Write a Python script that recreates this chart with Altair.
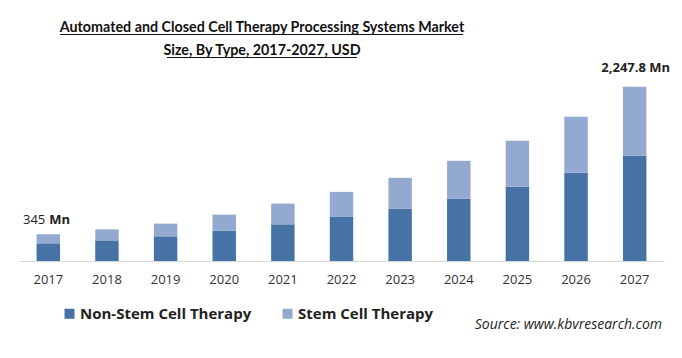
import altair as alt
import pandas as pd

years = ["2017", "2018", "2019", "2020", "2021", "2022", "2023", "2024", "2025", "2026", "2027"]
non_stem = [228, 266, 318, 391, 473, 568, 672, 801, 956, 1137, 1357]
stem = [117, 142, 164, 207, 267, 323, 400, 491, 594, 723, 890.8]
series = ["Non-Stem Cell Therapy", "Stem Cell Therapy"]
colors = ["#4672A6", "#94A9CF"]
title_lines = ["Automated and Closed Cell Therapy Processing Systems Market",
               "Size, By Type, 2017-2027, USD"]
first_label = "345"
last_label = "2,247.8 Mn"
unit = "Mn"
source_text = "Source: www.kbvresearch.com"

rows = []
for i, yr in enumerate(years):
    rows.append({"year": yr, "series": series[0], "value": non_stem[i], "ord": 0})
    rows.append({"year": yr, "series": series[1], "value": stem[i], "ord": 1})
df = pd.DataFrame(rows)
tot_df = pd.DataFrame({"year": years, "total": [a + b for a, b in zip(non_stem, stem)]})

xscale = alt.Scale(domain=years, paddingInner=0.6, paddingOuter=0.3)
yscale = alt.Scale(domain=[0, 2334], nice=False)

x = alt.X("year:N", scale=xscale, sort=years,
          axis=alt.Axis(title=None, labelAngle=0, ticks=False, domainColor="#d9d9d9",
                        domainWidth=1, labelPadding=12, labelFont="Open Sans",
                        labelFontSize=13, labelColor="#333333", grid=False))

bars = alt.Chart(df).mark_bar().encode(
    x=x,
    y=alt.Y("value:Q", stack="zero", scale=yscale, axis=None),
    color=alt.Color("series:N", scale=alt.Scale(domain=series, range=colors),
                    legend=alt.Legend(orient="none", legendX=43, legendY=226,
                                      direction="horizontal", title=None,
                                      symbolType="square", symbolSize=100,
                                      symbolStrokeWidth=0, labelFont="Open Sans",
                                      labelFontSize=15, labelFontWeight="bold",
                                      labelColor="#222222", columnPadding=28,
                                      labelOffset=3, labelLimit=0)),
    order=alt.Order("ord:Q"),
)

base_t = alt.Chart(tot_df)
lab_first_num = base_t.transform_filter(alt.datum.year == years[0]).mark_text(
    align="right", baseline="middle", dx=-3, dy=-14, font="Open Sans", fontSize=13,
    color="#222222").encode(
    x=alt.X("year:N", scale=xscale, sort=years),
    y=alt.Y("total:Q", scale=yscale), text=alt.value(first_label))
lab_first_unit = base_t.transform_filter(alt.datum.year == years[0]).mark_text(
    align="left", baseline="middle", dx=1, dy=-14, font="Open Sans", fontSize=13,
    fontWeight="bold", color="#222222").encode(
    x=alt.X("year:N", scale=xscale, sort=years),
    y=alt.Y("total:Q", scale=yscale), text=alt.value(unit))
lab_last = base_t.transform_filter(alt.datum.year == years[-1]).mark_text(
    align="center", baseline="middle", dx=1, dy=-19, font="Open Sans", fontSize=13,
    fontWeight="bold", color="#222222").encode(
    x=alt.X("year:N", scale=xscale, sort=years),
    y=alt.Y("total:Q", scale=yscale), text=alt.value(last_label))

one = pd.DataFrame({"k": [0]})
title_font = "Lato"
t1 = alt.Chart(one).mark_text(align="center", baseline="alphabetic",
                              font=title_font, fontSize=14.3,
                              fontWeight="bold", color="#111111").encode(
    x=alt.value(243), y=alt.value(-48.5), text=alt.value(title_lines[0]))
t2 = alt.Chart(one).mark_text(align="center", baseline="alphabetic",
                              font=title_font, fontSize=14.3,
                              fontWeight="bold", color="#111111").encode(
    x=alt.value(243), y=alt.value(-25.5), text=alt.value(title_lines[1]))
u1 = alt.Chart(one).mark_rule(color="#111111", strokeWidth=1).encode(
    x=alt.value(41), x2=alt.value(444), y=alt.value(-45.5))
u2 = alt.Chart(one).mark_rule(color="#111111", strokeWidth=1).encode(
    x=alt.value(148), x2=alt.value(338), y=alt.value(-22.5))
src = alt.Chart(one).mark_text(align="right", baseline="middle", font="Open Sans",
                               fontSize=14, fontStyle="italic", color="#222222").encode(
    x=alt.value(643), y=alt.value(245), text=alt.value(source_text))

chart = alt.layer(bars, lab_first_num, lab_first_unit, lab_last, t1, t2, u1, u2, src).properties(
    width=645, height=181,
    padding={"left": 11, "top": 72, "right": 10, "bottom": 89},
    autosize=alt.AutoSizeParams(type="none"),
    background="white",
).configure_view(stroke=None)

chart.save("out.html", embed_options={"renderer": "svg", "actions": False})
